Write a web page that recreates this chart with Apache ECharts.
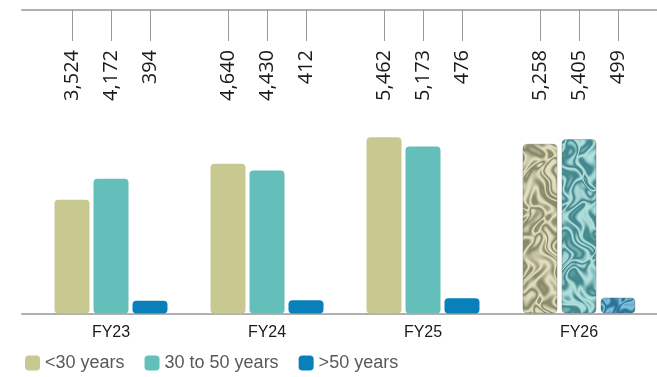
<!DOCTYPE html>
<html>
<head>
<meta charset="utf-8">
<style>
html,body{margin:0;padding:0;background:#fff;}
#chart{width:657px;height:377px;}
</style>
<script src="https://cdn.jsdelivr.net/npm/echarts@6/dist/echarts.min.js"></script>
</head>
<body>
<div id="chart"></div>
<script>
const categories = ['FY23', 'FY24', 'FY25', 'FY26'];
const seriesNames = ['<30 years', '30 to 50 years', '>50 years'];
const under30 = [3524, 4640, 5462, 5258];
const from30to50 = [4172, 4430, 5173, 5405];
const over50 = [394, 412, 476, 499];
const allSeries = [under30, from30to50, over50];

const colors = ['#c8c891', '#64bfba', '#0a80bb'];
const texDark = [[120,122,92],[46,118,128],[24,98,140]];
const texLight = [[226,222,190],[178,224,220],[128,192,218]];

function marble(w, h, dark, light, seed) {
  const c = document.createElement('canvas');
  c.width = w; c.height = h;
  const ctx = c.getContext('2d');
  const img = ctx.createImageData(w, h);
  for (let y = 0; y < h; y++) {
    for (let x = 0; x < w; x++) {
      const wx = x + 6 * Math.sin(y * 0.11 + seed) + 4 * Math.sin(y * 0.23 + x * 0.07);
      const wy = y + 7 * Math.sin(x * 0.13 + seed * 1.3) + 3 * Math.sin(x * 0.29 - y * 0.05);
      const f = Math.sin(wx * 0.21 + 2.2 * Math.sin(wy * 0.09 + 1.4 * Math.sin(wx * 0.12 + seed)));
      const g = Math.sin(wy * 0.17 + 1.9 * Math.sin(wx * 0.14 + 1.2 * Math.sin(wy * 0.08 - seed)));
      let v = 0.5 + 0.5 * Math.sin(2.6 * (f + g) + seed);
      v = 0.15 + 0.85 * v;
      const i = (y * w + x) * 4;
      img.data[i] = dark[0] + (light[0] - dark[0]) * v;
      img.data[i + 1] = dark[1] + (light[1] - dark[1]) * v;
      img.data[i + 2] = dark[2] + (light[2] - dark[2]) * v;
      img.data[i + 3] = 255;
    }
  }
  ctx.putImageData(img, 0, 0);
  return c;
}

function fmt(v) { return v.toString().replace(/\B(?=(\d{3})+(?!\d))/g, ','); }

const BAR_W = 35, BAR_STEP = 39;

const barSeries = allSeries.map((vals, si) => ({
  name: seriesNames[si],
  type: 'bar',
  xAxisIndex: 0,
  yAxisIndex: 0,
  barWidth: BAR_W,
  barGap: '11.4%',
  itemStyle: { color: colors[si], borderRadius: [4, 4, 4, 4] },
  data: vals.map((v, ci) => {
    if (ci === categories.length - 1) {
      return {
        value: v,
        itemStyle: {
          color: { image: marble(657, 377, texDark[si], texLight[si], si * 1.7 + 0.4), repeat: 'no-repeat' },
          borderColor: 'rgba(90,100,90,0.35)',
          borderWidth: 1,
          borderRadius: [4, 4, 4, 4]
        }
      };
    }
    return v;
  })
}));

const labelData = [];
allSeries.forEach((vals, si) => vals.forEach((v, ci) => labelData.push([ci, si, v])));

const labelSeries = {
  type: 'custom',
  xAxisIndex: 0,
  yAxisIndex: 0,
  silent: true,
  clip: false,
  encode: { x: 0, y: 2 },
  data: labelData,
  renderItem: function (params, api) {
    const c = api.coord([api.value(0), 0]);
    const x = Math.round(c[0] + (api.value(1) - 1) * BAR_STEP) + 0.5;
    const top = params.coordSys.y;
    return {
      type: 'group',
      children: [
        { type: 'line', shape: { x1: x, y1: top, x2: x, y2: top + 31 }, style: { stroke: '#9a9a9a', lineWidth: 1 } },
        { type: 'text', x: x, y: top + 40, rotation: Math.PI / 2,
          style: { text: fmt(api.value(2)), align: 'right', verticalAlign: 'middle',
            font: '20px "Open Sans"', fill: '#1a1a1a' } }
      ]
    };
  }
};

const chart = echarts.init(document.getElementById('chart'), null, { renderer: 'canvas' });
chart.setOption({
  animation: false,
  backgroundColor: '#ffffff',
  legend: {
    data: seriesNames,
    left: 20,
    top: 349,
    icon: 'roundRect',
    itemWidth: 15,
    itemHeight: 15,
    itemGap: 20,
    textStyle: { fontFamily: '"Liberation Sans", Arial, sans-serif', fontSize: 18, color: '#595959', padding: [0, 0, 0, 0] }
  },
  grid: [
    { left: 33, right: 0, top: 10, bottom: 63.5 },
    { left: 22, right: 0, top: 10, bottom: 63.5 }
  ],
  xAxis: [
    { type: 'category', gridIndex: 0, data: categories,
      axisLine: { show: false }, axisTick: { show: false },
      axisLabel: { fontFamily: '"Liberation Sans", Arial, sans-serif', fontSize: 16, color: '#1a1a1a', margin: 11 } },
    { type: 'value', gridIndex: 1, position: 'bottom', min: 0, max: 1,
      axisLine: { show: true, onZero: false, lineStyle: { color: '#b0b0b0', width: 2 } },
      axisTick: { show: false }, axisLabel: { show: false }, splitLine: { show: false } },
    { type: 'value', gridIndex: 1, position: 'top', min: 0, max: 1,
      axisLine: { show: true, onZero: false, lineStyle: { color: '#b0b0b0', width: 2 } },
      axisTick: { show: false }, axisLabel: { show: false }, splitLine: { show: false } }
  ],
  yAxis: [
    { type: 'value', gridIndex: 0, min: 0, max: 9400, show: false, splitLine: { show: false } },
    { type: 'value', gridIndex: 1, min: 0, max: 1, show: false, splitLine: { show: false } }
  ],
  series: barSeries.concat([labelSeries])
});
</script>
</body>
</html>
